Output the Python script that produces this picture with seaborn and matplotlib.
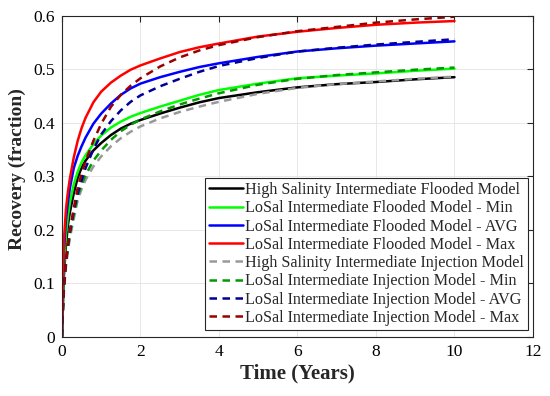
import numpy as np
import pandas as pd
import matplotlib
matplotlib.use('Agg')
import matplotlib.pyplot as plt
import seaborn as sns

# --- data ---
time_years = [0, 0.02, 0.05, 0.1, 0.15, 0.2, 0.3, 0.4, 0.5, 0.6, 0.8, 1.0, 1.25, 1.5,
              1.75, 2, 2.5, 3, 3.5, 4, 5, 6, 7, 8, 9, 10]

hs_flooded = [0, 0.05, 0.115, 0.17, 0.208, 0.232, 0.268, 0.297, 0.316, 0.329, 0.348, 0.362, 0.377,
              0.389, 0.398, 0.405, 0.417, 0.428, 0.438, 0.446, 0.457, 0.466, 0.472, 0.476, 0.481, 0.485]
ls_flooded_min = [0, 0.06, 0.13, 0.19, 0.225, 0.25, 0.285, 0.308, 0.326, 0.339, 0.360, 0.376, 0.391,
                  0.402, 0.411, 0.418, 0.430, 0.441, 0.452, 0.461, 0.473, 0.483, 0.488, 0.492, 0.497, 0.501]
ls_flooded_avg = [0, 0.08, 0.16, 0.218, 0.25, 0.277, 0.315, 0.338, 0.356, 0.372, 0.398, 0.417, 0.436,
                  0.452, 0.464, 0.473, 0.485, 0.495, 0.504, 0.511, 0.523, 0.533, 0.539, 0.544, 0.548, 0.552]
ls_flooded_max = [0, 0.09, 0.18, 0.237, 0.27, 0.295, 0.335, 0.366, 0.39, 0.409, 0.438, 0.458, 0.475,
                  0.488, 0.499, 0.507, 0.520, 0.532, 0.541, 0.548, 0.561, 0.570, 0.577, 0.583, 0.587, 0.590]

hs_injection = [0, 0.042, 0.085, 0.13, 0.16, 0.184, 0.22, 0.255, 0.276, 0.293, 0.318, 0.337, 0.356,
                0.371, 0.383, 0.393, 0.408, 0.420, 0.430, 0.439, 0.454, 0.465, 0.472, 0.477, 0.482, 0.486]
ls_injection_min = [0, 0.045, 0.09, 0.135, 0.165, 0.19, 0.228, 0.262, 0.284, 0.302, 0.329, 0.348, 0.368,
                    0.384, 0.396, 0.406, 0.421, 0.434, 0.445, 0.455, 0.471, 0.482, 0.489, 0.494, 0.499, 0.503]
ls_injection_avg = [0, 0.045, 0.095, 0.14, 0.17, 0.195, 0.235, 0.268, 0.292, 0.315, 0.350, 0.378, 0.403,
                    0.423, 0.439, 0.451, 0.468, 0.482, 0.495, 0.506, 0.521, 0.533, 0.540, 0.546, 0.551, 0.556]
ls_injection_max = [0, 0.045, 0.095, 0.14, 0.172, 0.198, 0.24, 0.278, 0.305, 0.328, 0.366, 0.398, 0.430,
                    0.452, 0.469, 0.483, 0.505, 0.522, 0.535, 0.545, 0.560, 0.571, 0.579, 0.587, 0.593, 0.598]

labels = [
    'High Salinity Intermediate Flooded Model',
    'LoSal Intermediate Flooded Model - Min',
    'LoSal Intermediate Flooded Model - AVG',
    'LoSal Intermediate Flooded Model - Max',
    'High Salinity Intermediate Injection Model',
    'LoSal Intermediate Injection Model - Min',
    'LoSal Intermediate Injection Model - AVG',
    'LoSal Intermediate Injection Model - Max',
]
series = [hs_flooded, ls_flooded_min, ls_flooded_avg, ls_flooded_max,
          hs_injection, ls_injection_min, ls_injection_avg, ls_injection_max]
colors = ['#000000', '#00ff00', '#0000ff', '#ff0000',
          '#999999', '#009900', '#000099', '#990000']
styles = ['-', '-', '-', '-', '--', '--', '--', '--']

x_ticks = [0, 2, 4, 6, 8, 10, 12]
y_ticks = [0, 0.1, 0.2, 0.3, 0.4, 0.5, 0.6]
y_tick_labels = ['0', '0.1', '0.2', '0.3', '0.4', '0.5', '0.6']

sns.set_style('white')
plt.rcParams['font.family'] = ['Liberation Serif', 'DejaVu Serif']

fig = plt.figure(figsize=(5.5, 3.96), dpi=100)
ax = fig.add_axes([0.1127, 0.150, 0.969 - 0.1127, 0.9604 - 0.150])

for vals, lab, col, ls in zip(series, labels, colors, styles):
    df = pd.DataFrame({'t': time_years, 'r': vals})
    sns.lineplot(data=df, x='t', y='r', color=col, linewidth=1.8,
                 label=lab, ax=ax)
    line = ax.lines[-1]
    line.set_solid_joinstyle('round')
    if ls == '--':
        line.set_linestyle((0, (3.0, 2.2)))

ax.set_xlim(0, 12)
ax.set_ylim(0, 0.6)
ax.set_xticks(x_ticks)
ax.set_xticklabels([str(v) for v in x_ticks])
ax.set_yticks(y_ticks)
ax.set_yticklabels(y_tick_labels)
ax.tick_params(direction='in', length=4, width=0.8, top=True, right=True,
               labelsize=12.5, colors='#262626', labelcolor='black', pad=5)
ax.grid(True, color='#e3e3e3', linewidth=0.6)
for sp in ax.spines.values():
    sp.set_color('#262626')
    sp.set_linewidth(0.8)

ax.set_xlabel('Time (Years)', fontsize=15, fontweight='bold', labelpad=3)
ax.set_ylabel('Recovery (fraction)', fontsize=14, fontweight='bold', labelpad=5)
ax.yaxis.label.set_y(0.522)

leg = ax.legend(loc='lower right', bbox_to_anchor=(0.989, 0.021), fontsize=11.6,
                frameon=True, fancybox=False, framealpha=1, edgecolor='#262626',
                labelspacing=0.14, handlelength=2.1, handletextpad=0.1,
                borderpad=0.25, borderaxespad=0.0)
leg.get_frame().set_linewidth(0.8)

fig.savefig('out.png', dpi=100)
